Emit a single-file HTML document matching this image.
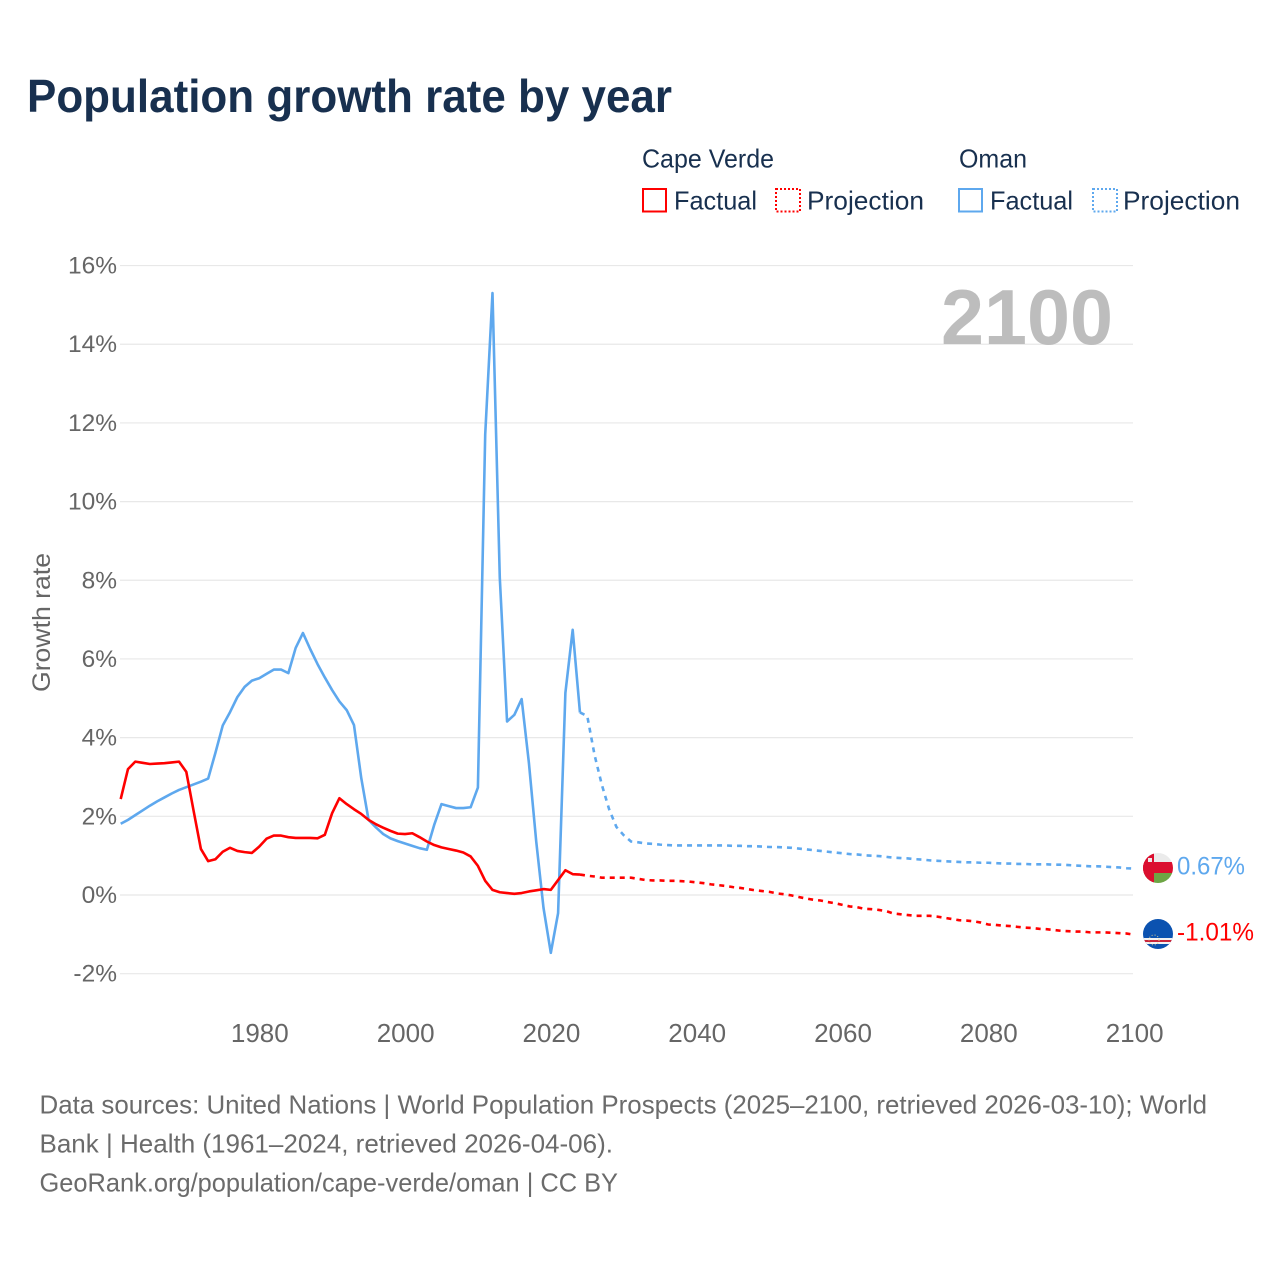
<!DOCTYPE html>
<html lang="en">
<head>
<meta charset="utf-8">
<title>Population growth rate by year</title>
<style>
html,body{margin:0;padding:0;background:#fff;}
svg{display:block;font-family:"Liberation Sans",sans-serif;}
</style>
</head>
<body>
<svg id="chart" xmlns="http://www.w3.org/2000/svg" width="1280" height="1280" viewBox="0 0 1280 1280">
  <rect x="0" y="0" width="1280" height="1280" fill="#ffffff"/>
  <text x="27" y="112" font-size="46" font-weight="700" fill="#18304f" textLength="645" lengthAdjust="spacingAndGlyphs">Population growth rate by year</text>

  <g font-size="26" fill="#18304f">
    <text x="642" y="167.5" textLength="132" lengthAdjust="spacingAndGlyphs">Cape Verde</text>
    <text x="959" y="167.5" textLength="68" lengthAdjust="spacingAndGlyphs">Oman</text>
    <rect x="643" y="189" width="23" height="22.5" fill="none" stroke="#ff0000" stroke-width="2"/>
    <text x="674" y="209.5" textLength="83" lengthAdjust="spacingAndGlyphs">Factual</text>
    <rect x="776" y="189" width="24" height="22.5" fill="none" stroke="#ff0000" stroke-width="2" stroke-dasharray="2 2"/>
    <text x="807" y="209.5" textLength="117" lengthAdjust="spacingAndGlyphs">Projection</text>
    <rect x="959" y="189" width="23" height="22.5" fill="none" stroke="#5ea8ee" stroke-width="2"/>
    <text x="990" y="209.5" textLength="83" lengthAdjust="spacingAndGlyphs">Factual</text>
    <rect x="1093" y="189" width="24" height="22.5" fill="none" stroke="#5ea8ee" stroke-width="2" stroke-dasharray="2 2"/>
    <text x="1123" y="209.5" textLength="117" lengthAdjust="spacingAndGlyphs">Projection</text>
  </g>

  <g id="grid"></g>
  <g id="yticks"></g>
  <g id="xticks"></g>

  <text transform="translate(50,622.5) rotate(-90)" text-anchor="middle" font-size="25" fill="#666666" textLength="139" lengthAdjust="spacingAndGlyphs">Growth rate</text>
  <text x="941" y="344" font-size="78" font-weight="700" fill="#bdbdbd" textLength="172" lengthAdjust="spacingAndGlyphs">2100</text>

  <g id="series"></g>

  <defs>
    <clipPath id="clip-oman"><circle cx="1158" cy="868" r="15"/></clipPath>
    <clipPath id="clip-cv"><circle cx="1158" cy="934" r="15"/></clipPath>
  </defs>
  <g clip-path="url(#clip-oman)">
    <rect x="1143" y="853" width="30" height="9" fill="#ebebeb"/>
    <rect x="1143" y="862" width="30" height="11" fill="#db0f2f"/>
    <rect x="1143" y="873" width="30" height="10" fill="#6da544"/>
    <rect x="1143" y="853" width="11" height="30" fill="#db0f2f"/>
    <rect x="1148" y="858" width="4" height="4" fill="#ebebeb"/>
  </g>
  <g clip-path="url(#clip-cv)">
    <rect x="1143" y="919" width="30" height="30" fill="#0b52b0"/>
    <rect x="1143" y="938" width="30" height="6" fill="#f2f2f2"/>
    <rect x="1143" y="940" width="30" height="2" fill="#c9253a"/>
    <circle cx="1154" cy="940" r="5" fill="none" stroke="#d8c98a" stroke-width="1" stroke-dasharray="1 2"/>
  </g>
  <text id="label-oman" x="1177" y="874.5" font-size="25" fill="#5ea8ee" textLength="68" lengthAdjust="spacingAndGlyphs">0.67%</text>
  <text id="label-cv" x="1177" y="940.5" font-size="25" fill="#ff0000" textLength="77" lengthAdjust="spacingAndGlyphs">-1.01%</text>

  <g font-size="26" fill="#6b6b6b">
    <text x="39.5" y="1113.5" textLength="1167.5" lengthAdjust="spacingAndGlyphs">Data sources: United Nations | World Population Prospects (2025–2100, retrieved 2026-03-10); World</text>
    <text x="39.5" y="1152.5" textLength="573.5" lengthAdjust="spacingAndGlyphs">Bank | Health (1961–2024, retrieved 2026-04-06).</text>
    <text x="39.5" y="1191.5" textLength="578.5" lengthAdjust="spacingAndGlyphs">GeoRank.org/population/cape-verde/oman | CC BY</text>
  </g>
</svg>
<script>
const yTickValues = [16, 14, 12, 10, 8, 6, 4, 2, 0, -2];
const xTickYears = [1980, 2000, 2020, 2040, 2060, 2080, 2100];
const factualStartYear = 1961;
const projectionStartYear = 2024;

const capeVerdeFactual = [2.44,3.2,3.39,3.36,3.33,3.34,3.35,3.37,3.39,3.13,2.14,1.17,0.86,0.91,1.10,1.2,1.12,1.09,1.07,1.23,1.43,1.51,1.51,1.47,1.45,1.45,1.45,1.44,1.53,2.08,2.46,2.31,2.18,2.06,1.91,1.8,1.71,1.63,1.56,1.55,1.57,1.47,1.36,1.27,1.21,1.17,1.13,1.08,0.98,0.74,0.36,0.13,0.07,0.05,0.03,0.05,0.09,0.12,0.15,0.13,0.38,0.63,0.53,0.52];

const omanFactual = [1.81,1.91,2.03,2.15,2.27,2.38,2.48,2.58,2.67,2.74,2.81,2.88,2.96,3.62,4.31,4.65,5.03,5.29,5.45,5.51,5.62,5.73,5.73,5.64,6.28,6.66,6.25,5.87,5.53,5.21,4.92,4.7,4.32,2.97,1.91,1.72,1.55,1.44,1.37,1.31,1.25,1.19,1.15,1.78,2.31,2.26,2.21,2.21,2.23,2.73,11.7,15.3,8.07,4.41,4.58,4.98,3.35,1.36,-0.33,-1.47,-0.46,5.14,6.74,4.64];

const capeVerdeProjection = [0.52,0.49,0.47,0.44,0.44,0.44,0.44,0.44,0.41,0.38,0.37,0.37,0.36,0.36,0.35,0.34,0.32,0.30,0.27,0.25,0.23,0.20,0.18,0.15,0.12,0.10,0.08,0.04,0.02,-0.01,-0.05,-0.09,-0.12,-0.14,-0.18,-0.21,-0.25,-0.29,-0.31,-0.35,-0.36,-0.38,-0.41,-0.47,-0.49,-0.51,-0.53,-0.53,-0.53,-0.55,-0.58,-0.61,-0.64,-0.65,-0.67,-0.70,-0.75,-0.76,-0.78,-0.79,-0.81,-0.83,-0.84,-0.86,-0.87,-0.89,-0.91,-0.92,-0.93,-0.93,-0.95,-0.95,-0.95,-0.96,-0.97,-0.98,-1.01];

const omanProjection = [4.64,4.55,3.56,2.8,2.18,1.73,1.52,1.36,1.34,1.31,1.30,1.28,1.27,1.26,1.26,1.26,1.26,1.26,1.26,1.26,1.26,1.25,1.25,1.24,1.24,1.23,1.22,1.22,1.21,1.20,1.18,1.16,1.14,1.12,1.10,1.08,1.06,1.04,1.03,1.01,1.00,0.99,0.97,0.95,0.94,0.93,0.91,0.90,0.88,0.87,0.86,0.85,0.84,0.83,0.83,0.82,0.82,0.81,0.80,0.80,0.79,0.79,0.78,0.78,0.78,0.77,0.77,0.76,0.75,0.74,0.73,0.73,0.72,0.71,0.70,0.68,0.67];

const SVG_NS = 'http://www.w3.org/2000/svg';
function xScale(year) { return 120.7 + (year - 1961) * 7.29; }
function yScale(value) { return 895 - value * 39.34; }
function pathFrom(values, startYear) {
  return values.map(function (v, i) {
    return (i ? 'L' : 'M') + xScale(startYear + i).toFixed(2) + ' ' + yScale(v).toFixed(2);
  }).join(' ');
}

const gridGroup = document.getElementById('grid');
const yTickGroup = document.getElementById('yticks');
const xTickGroup = document.getElementById('xticks');
const seriesGroup = document.getElementById('series');

yTickValues.forEach(function (v) {
  const line = document.createElementNS(SVG_NS, 'line');
  
  
  line.setAttribute('x1', 120);
  line.setAttribute('x2', 1133);
  line.setAttribute('y1', yScale(v));
  line.setAttribute('y2', yScale(v));
  line.setAttribute('stroke', '#e8e8e8');
  line.setAttribute('stroke-width', 1.2);
  gridGroup.appendChild(line);

  const label = document.createElementNS(SVG_NS, 'text');
  
  
  label.setAttribute('x', 117);
  label.setAttribute('y', yScale(v) + 8);
  label.setAttribute('text-anchor', 'end');
  label.setAttribute('font-size', 24.5);
  label.setAttribute('fill', '#666666');
  label.textContent = v + '%';
  yTickGroup.appendChild(label);
});

xTickYears.forEach(function (year) {
  const label = document.createElementNS(SVG_NS, 'text');
  
  
  label.setAttribute('x', xScale(year) + 0.6);
  label.setAttribute('y', 1042);
  label.setAttribute('text-anchor', 'middle');
  label.setAttribute('font-size', 26);
  label.setAttribute('fill', '#666666');
  label.textContent = String(year);
  xTickGroup.appendChild(label);
});

const omanFactualLine = document.createElementNS(SVG_NS, 'path');


omanFactualLine.setAttribute('d', pathFrom(omanFactual, factualStartYear));
omanFactualLine.setAttribute('fill', 'none');
omanFactualLine.setAttribute('stroke', '#5ea8ee');
omanFactualLine.setAttribute('stroke-width', 2.6);
omanFactualLine.setAttribute('stroke-linejoin', 'round');
seriesGroup.appendChild(omanFactualLine);

const omanProjectionLine = document.createElementNS(SVG_NS, 'path');


omanProjectionLine.setAttribute('d', pathFrom(omanProjection, projectionStartYear));
omanProjectionLine.setAttribute('fill', 'none');
omanProjectionLine.setAttribute('stroke', '#5ea8ee');
omanProjectionLine.setAttribute('stroke-width', 2.6);
omanProjectionLine.setAttribute('stroke-dasharray', '5 5');
seriesGroup.appendChild(omanProjectionLine);

const cvFactualLine = document.createElementNS(SVG_NS, 'path');


cvFactualLine.setAttribute('d', pathFrom(capeVerdeFactual, factualStartYear));
cvFactualLine.setAttribute('fill', 'none');
cvFactualLine.setAttribute('stroke', '#ff0000');
cvFactualLine.setAttribute('stroke-width', 2.6);
cvFactualLine.setAttribute('stroke-linejoin', 'round');
seriesGroup.appendChild(cvFactualLine);

const cvProjectionLine = document.createElementNS(SVG_NS, 'path');


cvProjectionLine.setAttribute('d', pathFrom(capeVerdeProjection, projectionStartYear));
cvProjectionLine.setAttribute('fill', 'none');
cvProjectionLine.setAttribute('stroke', '#ff0000');
cvProjectionLine.setAttribute('stroke-width', 2.6);
cvProjectionLine.setAttribute('stroke-dasharray', '5 5');
seriesGroup.appendChild(cvProjectionLine);
</script>
</body>
</html>
